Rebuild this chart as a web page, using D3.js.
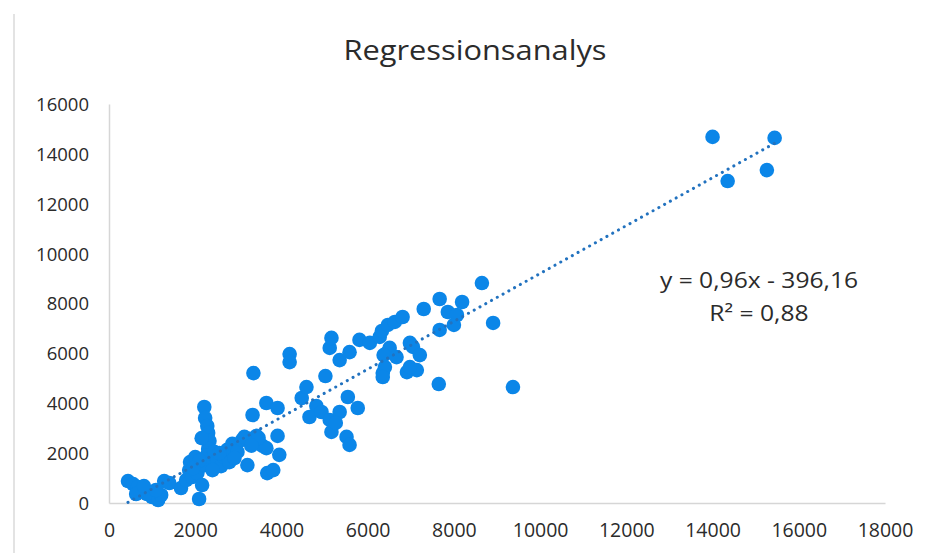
<!DOCTYPE html>
<html>
<head>
<meta charset="utf-8">
<script src="https://cdn.jsdelivr.net/npm/d3@7"></script>
<style>
  html, body { margin: 0; padding: 0; background: #fff; }
  svg { display: block; }
  text { font-family: "Open Sans", Lato, sans-serif; fill: #2b2b2b; }
</style>
</head>
<body>
<svg id="chart" width="926" height="553"></svg>
<script>
// ---- data ----
const chartTitle = "Regressionsanalys";
const xTicks = [0, 2000, 4000, 6000, 8000, 10000, 12000, 14000, 16000, 18000];
const yTicks = [0, 2000, 4000, 6000, 8000, 10000, 12000, 14000, 16000];
const xValues = [
  440, 560, 670, 770, 880, 1000, 1140, 1210, 1280, 1400, 630, 810, 1090,
  1670, 1790, 1860, 1880, 2000, 2090, 2090, 1930, 2050,
  2210, 2230, 2280, 2300, 2330, 2300, 2260, 2370, 2210, 2160,
  2440, 2510, 2600, 2670, 2740, 2860, 2980, 3090, 3260, 3420, 3560,
  3670, 3810, 3950, 3650, 3910, 3210, 3140, 3470, 3330, 3650, 3910,
  3350, 4190, 4190, 2790, 2910, 2400,
  4470, 4580, 4810, 4650, 4930, 5020, 5120, 5160, 5350, 5510, 5580,
  5540, 5770, 5120, 5160, 5350, 5580, 5810, 6050, 6280, 6440, 6350, 5260,
  6330, 6470, 6630, 6810, 6510, 6370, 6670, 6980, 7050, 7210, 7140,
  6910, 6400, 6350, 6980, 7300, 7670, 7860, 8000, 7670, 8190, 8650,
  8910, 9370, 7650, 8070,
  14000, 15440, 14350, 15260,
  2150, 2560, 2100, 1950, 3300
];
const yValues = [
  880, 760, 640, 480, 360, 240, 120, 320, 880, 800, 360, 680, 520,
  600, 920, 1320, 1640, 1840, 1440, 160, 1040, 1200,
  3850, 3410, 3090, 2810, 2490, 2170, 1890, 1640, 1520, 720,
  2050, 1720, 1480, 1840, 2130, 2370, 2050, 2530, 2570, 2690, 2290,
  1200, 1320, 1930, 2200, 2690, 1520, 2650, 2610, 3530, 4010, 3810,
  5210, 5970, 5650, 1640, 1800, 1320,
  4210, 4650, 3890, 3450, 3650, 5090, 3330, 2850, 3650, 2650, 2330,
  4250, 3810, 6220, 6620, 5730, 6050, 6540, 6420, 6660, 6010, 5210, 3210,
  6900, 7140, 7260, 7460, 6220, 5930, 5850, 6420, 6260, 5930, 5330,
  5250, 5450, 5050, 5450, 7780, 8180, 7660, 7140, 6940, 8060, 8820,
  7220, 4650, 4770, 7540,
  14680, 14640, 12910, 13350,
  2600, 2000, 1700, 1400, 2300
];
const trendSlope = 0.96;
const trendIntercept = -396.16;
const equationLines = ["y = 0,96x - 396,16", "R\u00B2 = 0,88"];

// ---- layout ----
const svg = d3.select("#chart");
const x = d3.scaleLinear().domain([0, 18000]).range([109, 885]);
const y = d3.scaleLinear().domain([0, 16000]).range([503, 104]);

// outer chart border (left edge visible)
svg.append("line").attr("x1", 14).attr("x2", 14).attr("y1", 14).attr("y2", 553)
  .attr("stroke", "#e3e3e3").attr("stroke-width", 2);

// title
svg.append("g").attr("transform", "translate(475,60) scale(1.1,1)")
  .append("text").attr("text-anchor", "middle")
  .style("font-size", "28px").text(chartTitle);

// axes
const xAxis = d3.axisBottom(x).tickValues(xTicks).tickSize(0).tickPadding(0).tickFormat(d3.format("d"));
const yAxis = d3.axisLeft(y).tickValues(yTicks).tickSize(0).tickPadding(0).tickFormat(d3.format("d"));

const gx = svg.append("g").attr("transform", `translate(0,${y(0)})`).call(xAxis);
gx.select(".domain").attr("stroke", "#d6d6d6").attr("stroke-width", 1.5);
gx.selectAll(".tick text").attr("dy", null).attr("y", 34)
  .style("font-size", "19.5px").style("font-family", "'Open Sans', sans-serif").attr("fill", "#2b2b2b");

const gy = svg.append("g").attr("transform", `translate(${x(0)},0)`).call(yAxis);
gy.select(".domain").attr("stroke", "#d6d6d6").attr("stroke-width", 1.5);
gy.selectAll(".tick text").attr("x", -20).attr("dy", "0.35em")
  .style("font-size", "18.5px").style("font-family", "'Open Sans', sans-serif").attr("fill", "#2b2b2b");

// points
const pts = xValues.map((v, i) => [v, yValues[i]]);
svg.append("g").selectAll("circle").data(pts).join("circle")
  .attr("cx", d => x(d[0])).attr("cy", d => y(d[1])).attr("r", 7.3)
  .attr("fill", "#0b86e8");

// trendline
const xMin = d3.min(xValues), xMax = d3.max(xValues);
svg.append("line")
  .attr("x1", x(xMin)).attr("y1", y(trendSlope * xMin + trendIntercept))
  .attr("x2", x(xMax)).attr("y2", y(trendSlope * xMax + trendIntercept))
  .attr("stroke", "#2272bf").attr("stroke-width", 3)
  .attr("stroke-linecap", "round").attr("stroke-dasharray", "0.1 6.5");

// equation
const eqG = svg.append("g").attr("transform", "translate(759,0) scale(1.12,1)");
const eq = eqG.append("text").attr("text-anchor", "middle").style("font-size", "22px");
equationLines.forEach((t, i) => {
  eq.append("tspan").attr("x", 0).attr("y", 288 + i * 33).text(t);
});
</script>
</body>
</html>
